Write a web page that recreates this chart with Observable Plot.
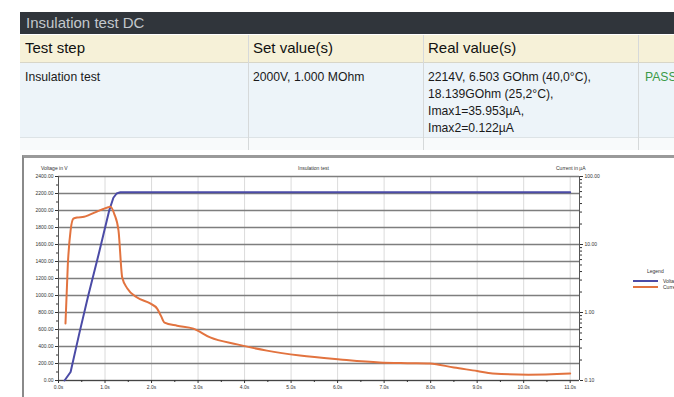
<!DOCTYPE html>
<html><head><meta charset="utf-8">
<script src="https://cdn.jsdelivr.net/npm/d3@7"></script>
<script src="https://cdn.jsdelivr.net/npm/@observablehq/plot@0.6"></script>
<style>
html,body{margin:0;padding:0;background:#fff;}
body{width:674px;height:397px;overflow:hidden;position:relative;font-family:"Liberation Sans",Arial,sans-serif;}
.abs{position:absolute;}
#bar{left:20px;top:12px;width:660px;height:22px;background:#30353b;color:#c3c8cd;font-size:15px;line-height:22px;padding-left:6px;box-sizing:border-box;}
#hdr{left:20px;top:35px;width:660px;height:27px;background:#f6f1d8;border-bottom:1px solid #d8d6c8;}
#row{left:20px;top:63px;width:660px;height:74px;background:#edf4f9;border-bottom:1px solid #dde3e6;}
#row2{left:20px;top:138px;width:660px;height:12px;background:#f8fafb;}
.sep{position:absolute;width:1px;background:#d6d9da;}
.hcell{position:absolute;top:4px;font-size:15px;color:#111;}
.dcell{position:absolute;top:6px;font-size:12.2px;line-height:17px;color:#1a1a1a;}
#frame{left:22px;top:155px;width:670px;height:260px;border-top:3px solid #9a9a9a;border-left:2px solid #8a8a8a;box-sizing:border-box;}
#plot{left:22px;top:158px;}
.tiny{position:absolute;font-size:5px;color:#333;white-space:nowrap;}
.sw{position:absolute;height:2px;width:25px;}
</style>
</head><body>
<div id="bar" class="abs">Insulation test DC</div>
<div id="hdr" class="abs">
  <div class="hcell" style="left:5px">Test step</div>
  <div class="hcell" style="left:233px">Set value(s)</div>
  <div class="hcell" style="left:408px">Real value(s)</div>
</div>
<div id="row" class="abs">
  <div class="dcell" style="left:5px">Insulation test</div>
  <div class="dcell" style="left:233px">2000V, 1.000 MOhm</div>
  <div class="dcell" style="left:408px">2214V, 6.503 GOhm (40,0°C),<br>18.139GOhm (25,2°C),<br>Imax1=35.953µA,<br>Imax2=0.122µA</div>
  <div class="dcell" style="left:625px;color:#3c9a48">PASS</div>
</div>
<div id="row2" class="abs"></div>
<div class="sep" style="left:248px;top:35px;height:115px"></div>
<div class="sep" style="left:423px;top:35px;height:115px"></div>
<div class="sep" style="left:638px;top:35px;height:115px"></div>
<div id="frame" class="abs"></div>
<div id="plot" class="abs"></div>
<div class="tiny" style="left:41px;top:165px">Voltage in V</div>
<div class="tiny" style="left:298px;top:165px">Insulation test</div>
<div class="tiny" style="left:556px;top:165px">Current in µA</div>
<div class="tiny" style="left:647px;top:268px">Legend</div>
<div class="sw" style="left:633px;top:280px;background:#4b4ba6"></div>
<div class="sw" style="left:633px;top:286px;background:#e2733f"></div>
<div class="tiny" style="left:663px;top:278px">Voltage in V</div>
<div class="tiny" style="left:663px;top:284px">Current in µA</div>
<script>
// Voltage series (left axis, V)
const voltTime = [0.13, 0.26, 0.45, 0.64, 0.87, 1.09, 1.18, 1.25, 1.33, 11.0];
const voltage  = [0, 100, 560, 1000, 1500, 2000, 2150, 2200, 2214, 2214];
// Current series (right axis, µA, log)
const currTime = [0.15, 0.2, 0.26, 0.32, 0.4, 0.55, 0.65, 0.8, 0.95, 1.12, 1.2, 1.29, 1.37, 1.48, 1.69, 1.97, 2.12, 2.2, 2.28, 2.55, 2.9, 3.26, 3.84, 4.48, 5.19, 6.05, 6.9, 7.5, 7.98, 8.5, 9.0, 9.33, 10.1, 11.0];
const current  = [0.69, 5, 16.1, 24, 25, 25.5, 27, 30, 33, 35.9, 28, 16, 3.27, 2.26, 1.66, 1.36, 1.14, 0.9, 0.71, 0.64, 0.58, 0.43, 0.34, 0.275, 0.233, 0.204, 0.184, 0.18, 0.178, 0.155, 0.138, 0.127, 0.122, 0.127];
// Ticks
const xTicks = [0,1,2,3,4,5,6,7,8,9,10,11];
const xTickLabels = ["0.0s","1.0s","2.0s","3.0s","4.0s","5.0s","6.0s","7.0s","8.0s","9.0s","10.0s","11.0s"];
const xMinor = [0.5,1.5,2.5,3.5,4.5,5.5,6.5,7.5,8.5,9.5,10.5];
const vTicks = [0,200,400,600,800,1000,1200,1400,1600,1800,2000,2200,2400];
const vTickLabels = ["0.00","200.00","400.00","600.00","800.00","1000.00","1200.00","1400.00","1600.00","1800.00","2000.00","2200.00","2400.00"];
const vMinor = [100,300,500,700,900,1100,1300,1500,1700,1900,2100,2300];
const iTicks = [0.1, 1, 10, 100];
const iTickLabels = ["0.10","1.00","10.00","100.00"];
const iMinor = [0.2,0.3,0.4,0.5,0.6,0.7,0.8,0.9,2,3,4,5,6,7,8,9,20,30,40,50,60,70,80,90];

// map current (log, 0.1..100) onto the voltage scale (0..2400)
const cToY = c => (Math.log10(c) + 1) * 800;

const vData = voltTime.map((t, i) => ({t, v: voltage[i]}));
const cData = currTime.map((t, i) => ({t, y: cToY(current[i])}));

const fmtX = d => xTickLabels[xTicks.indexOf(d)];
const fmtV = d => vTickLabels[vTicks.indexOf(d)];
const iY = iTicks.map(cToY);
const fmtI = d => iTickLabels[iY.indexOf(d)];

const chart = Plot.plot({
  width: 652, height: 239,
  marginLeft: 36, marginRight: 95, marginTop: 18, marginBottom: 17,
  style: {fontFamily: "Liberation Sans, Arial, sans-serif", fontSize: "5px", background: "transparent", color: "#333"},
  x: {domain: [0, 11.2]},
  y: {domain: [0, 2400]},
  marks: [
    Plot.ruleX(xTicks, {stroke: "#d2d2d2", strokeWidth: 0.8}),
    Plot.ruleY(vTicks, {stroke: "#7e7e7e", strokeWidth: 1.7}),
    Plot.ruleX([0], {stroke: "#555", strokeWidth: 1}),
    Plot.ruleX([11.2], {stroke: "#555", strokeWidth: 1}),
    Plot.ruleY([0], {stroke: "#444", strokeWidth: 1.2}),
    Plot.axisX(xTicks, {anchor: "bottom", tickSize: 3, tickPadding: 2, tickFormat: fmtX, label: null, fontSize: 5}),
    Plot.axisX(xMinor, {anchor: "bottom", tickSize: 2, tickFormat: () => "", label: null}),
    Plot.axisY(vTicks, {anchor: "left", tickSize: 3, tickPadding: 2, tickFormat: fmtV, label: null, fontSize: 5}),
    Plot.axisY(vMinor, {anchor: "left", tickSize: 2, tickFormat: () => "", label: null}),
    Plot.axisY(iY, {anchor: "right", tickSize: 3, tickPadding: 2, tickFormat: fmtI, label: null, fontSize: 5}),
    Plot.axisY(iMinor.map(cToY), {anchor: "right", tickSize: 2, tickFormat: () => "", label: null}),
    Plot.line(vData, {x: "t", y: "v", stroke: "#4b4ba6", strokeWidth: 2}),
    Plot.line(cData, {x: "t", y: "y", stroke: "#e2733f", strokeWidth: 2, curve: "monotone-x"})
  ]
});
document.getElementById("plot").appendChild(chart);
</script>
</body></html>
